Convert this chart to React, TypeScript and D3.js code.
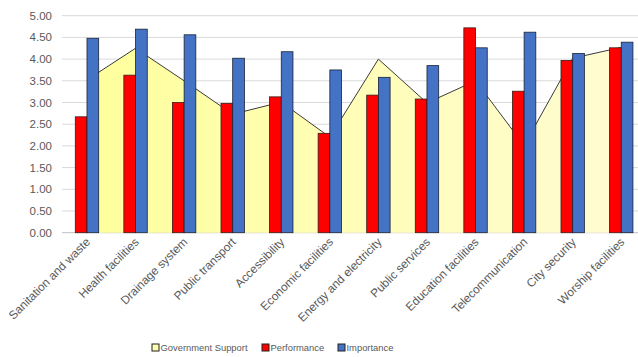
import React, { useEffect, useRef } from "react";
import * as d3 from "d3";

const categories = [
  "Sanitation and waste",
  "Health facilities",
  "Drainage system",
  "Public transport",
  "Accessibility",
  "Economic facilities",
  "Energy and electricity",
  "Public services",
  "Education facilities",
  "Telecommunication",
  "City security",
  "Worship facilities",
];

const governmentSupport = [3.52, 4.25, 3.5, 2.73, 3.01, 2.2, 4.0, 2.99, 3.5, 2.01, 4.02, 4.27];
const performance = [2.67, 3.63, 3.0, 2.98, 3.13, 2.29, 3.17, 3.08, 4.72, 3.26, 3.97, 4.26];
const importance = [4.48, 4.69, 4.56, 4.02, 4.17, 3.75, 3.58, 3.85, 4.26, 4.62, 4.13, 4.39];

const yTicks = [0, 0.5, 1, 1.5, 2, 2.5, 3, 3.5, 4, 4.5, 5];

const legendItems = [
  { label: "Government Support", color: "#ffffb0" },
  { label: "Performance", color: "#ff0000" },
  { label: "Importance", color: "#4472c4" },
];

const App = () => {
  const svgRef = useRef<SVGSVGElement>(null);

  useEffect(() => {
    const width = 638;
    const font = "Liberation Sans, Arial, sans-serif";

    const svg = d3.select(svgRef.current);
    svg.selectAll("*").remove();

    // plot is a bit wider than the picture: the original is cropped on the right
    const x = d3
      .scaleBand<string>()
      .domain(categories)
      .range([62.7, 62.7 + 12 * 48.57])
      .padding(0);
    const bw = x.bandwidth();
    const barW = 11.7;
    const xSub = d3
      .scaleBand<string>()
      .domain(["perf", "imp"])
      .range([bw / 2 - barW, bw / 2 + barW]);

    const y = d3.scaleLinear().domain([0, 5]).range([232.7, 15.7]);

    // gradient for the area
    const defs = svg.append("defs");
    const grad = defs
      .append("linearGradient")
      .attr("id", "supportFill")
      .attr("x1", "0%")
      .attr("x2", "100%")
      .attr("y1", "0%")
      .attr("y2", "0%");
    grad.append("stop").attr("offset", "0%").attr("stop-color", "#ffff9c");
    grad.append("stop").attr("offset", "100%").attr("stop-color", "#fffcd2");

    // gridlines
    svg
      .append("g")
      .selectAll("line")
      .data(yTicks)
      .join("line")
      .attr("x1", 62)
      .attr("x2", width)
      .attr("y1", (d) => y(d))
      .attr("y2", (d) => y(d))
      .attr("stroke", (d) => (d === 0 ? "#bfbfbf" : "#d9d9d9"))
      .attr("stroke-width", 1);

    // y tick labels
    svg
      .append("g")
      .selectAll("text")
      .data(yTicks)
      .join("text")
      .attr("x", 52)
      .attr("y", (d) => y(d))
      .attr("dy", "0.35em")
      .attr("text-anchor", "end")
      .attr("font-family", font)
      .attr("font-size", 11.5)
      .attr("fill", "#595959")
      .text((d) => d.toFixed(2));

    // government support area
    const cx = (c: string) => (x(c) ?? 0) + bw / 2;
    const area = d3
      .area<number>()
      .x((_, i) => cx(categories[i]))
      .y0(y(0))
      .y1((d) => y(d));
    const line = d3
      .line<number>()
      .x((_, i) => cx(categories[i]))
      .y((d) => y(d));

    svg
      .append("path")
      .datum(governmentSupport)
      .attr("d", area)
      .attr("fill", "url(#supportFill)");
    svg
      .append("path")
      .datum(governmentSupport)
      .attr("d", line)
      .attr("fill", "none")
      .attr("stroke", "#3a3a3a")
      .attr("stroke-width", 1);

    // bars
    const groups = svg
      .append("g")
      .selectAll("g")
      .data(categories)
      .join("g")
      .attr("transform", (c) => `translate(${x(c)},0)`);

    groups
      .append("rect")
      .attr("x", xSub("perf") ?? 0)
      .attr("width", xSub.bandwidth())
      .attr("y", (_, i) => y(performance[i]))
      .attr("height", (_, i) => y(0) - y(performance[i]))
      .attr("fill", "#ff0000")
      .attr("stroke", "#3b1a1a")
      .attr("stroke-width", 0.8);

    groups
      .append("rect")
      .attr("x", xSub("imp") ?? 0)
      .attr("width", xSub.bandwidth())
      .attr("y", (_, i) => y(importance[i]))
      .attr("height", (_, i) => y(0) - y(importance[i]))
      .attr("fill", "#4472c4")
      .attr("stroke", "#1a2238")
      .attr("stroke-width", 0.8);

    // x labels, rotated
    svg
      .append("g")
      .selectAll("text")
      .data(categories)
      .join("text")
      .attr("transform", (c) => `translate(${cx(c) + 4},${y(0) + 10}) rotate(-45)`)
      .attr("text-anchor", "end")
      .attr("font-family", font)
      .attr("font-size", 11.8)
      .attr("fill", "#595959")
      .text((c) => c);

    // legend
    const legend = svg.append("g").attr("transform", `translate(0,348)`);
    const legendX = [152, 262, 338];
    legendItems.forEach((item, i) => {
      const g = legend.append("g").attr("transform", `translate(${legendX[i]},0)`);
      g.append("rect")
        .attr("x", 0)
        .attr("y", -4)
        .attr("width", 7)
        .attr("height", 7)
        .attr("fill", item.color)
        .attr("stroke", "#222")
        .attr("stroke-width", 1);
      g.append("text")
        .attr("x", 8.5)
        .attr("y", 0)
        .attr("dy", "0.35em")
        .attr("font-family", font)
        .attr("font-size", 9.4)
        .attr("fill", "#595959")
        .text(item.label);
    });
  }, []);

  return (
    <svg
      ref={svgRef}
      width={638}
      height={357}
      style={{ position: "absolute", left: 0, top: 0, background: "#fff" }}
    />
  );
};

export default App;
